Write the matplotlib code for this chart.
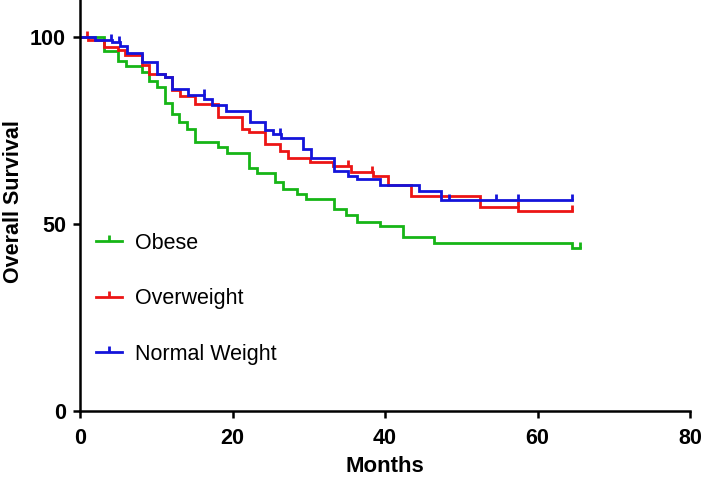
import matplotlib
matplotlib.use('Agg')
from matplotlib import pyplot as plt
from matplotlib.lines import Line2D

# Kaplan-Meier steps (months, % surviving)
obese_t = [0, 3.1, 5.0, 6.0, 8.1, 9.0, 10.1, 11.1, 12.0, 13.0, 14.0, 15.1, 18.1, 19.3,
           22.2, 23.2, 25.6, 26.6, 28.5, 29.6, 33.3, 34.9, 36.3, 39.3, 42.4, 46.4, 64.5, 65.6]
obese_s = [100, 96.4, 93.7, 92.3, 90.8, 88.4, 86.7, 82.3, 79.6, 77.3, 75.5, 72.0, 70.7, 69.1,
           65.1, 63.7, 61.3, 59.4, 58.0, 56.7, 54.0, 52.4, 50.7, 49.4, 46.5, 44.9, 43.5, 43.5]
obese_cens_t = [65.6]
obese_cens_s = [43.5]

over_t = [0, 1.1, 3.1, 5.0, 5.9, 8.1, 9.0, 11.1, 12.1, 13.1, 15.1, 18.1, 21.2, 22.2, 24.2,
          26.2, 27.3, 30.2, 33.2, 35.5, 38.4, 40.4, 43.4, 52.5, 57.5, 64.5]
over_s = [100, 99.3, 97.5, 96.6, 95.2, 92.6, 90.1, 89.4, 85.8, 84.2, 82.1, 78.7, 75.5, 74.6, 71.5,
          69.7, 67.7, 66.7, 65.7, 63.9, 62.8, 60.6, 57.6, 54.5, 53.6, 53.6]
over_cens_t = [0.9, 35.2, 38.3, 57.4, 64.5]
over_cens_s = [100, 65.7, 63.9, 54.5, 53.6]

norm_t = [0, 2.0, 4.2, 5.2, 6.1, 8.1, 10.1, 11.1, 12.1, 14.2, 16.3, 17.3, 19.2, 22.3, 24.3,
          25.3, 26.3, 29.3, 30.3, 33.3, 35.2, 36.3, 39.3, 44.4, 47.4, 64.5]
norm_s = [100, 99.3, 98.8, 97.7, 95.7, 93.4, 90.3, 89.4, 86.3, 84.5, 83.6, 81.8, 80.3, 77.3, 75.1,
          74.2, 73.1, 70.2, 67.7, 64.3, 63.0, 62.1, 60.6, 59.0, 56.6, 56.6]
norm_cens_t = [4.1, 5.1, 16.2, 26.2, 48.4, 54.5, 57.5, 64.5]
norm_cens_s = [99.3, 98.8, 84.5, 74.2, 56.6, 56.6, 56.6, 56.6]

labels = ['Obese', 'Overweight', 'Normal Weight']
colors = ['#16B516', '#EC1515', '#1414DA']

tick = [(0, 0), (0, 1)]  # upward censor tick
font = ['Liberation Sans', 'DejaVu Sans']

fig = plt.figure(figsize=(7.08, 4.79), dpi=100)
ax = fig.add_axes([80 / 708, 68 / 479, 610 / 708, 411 / 479])

groups = [(obese_t, obese_s, obese_cens_t, obese_cens_s),
          (over_t, over_s, over_cens_t, over_cens_s),
          (norm_t, norm_s, norm_cens_t, norm_cens_s)]
for (t, s, ct, cs), c in zip(groups, colors):
    ax.step(t, s, where='post', color=c, lw=2.0, solid_joinstyle='miter')
    ax.plot(ct, cs, ls='none', marker=tick, ms=8, mec=c, mfc='none', mew=2.0)

ax.set_xlim(0, 80)
ax.set_ylim(0, 110)
ax.set_xticks([0, 20, 40, 60, 80])
ax.set_yticks([0, 50, 100])
for side in ['top', 'right']:
    ax.spines[side].set_visible(False)
for side in ['left', 'bottom']:
    ax.spines[side].set_linewidth(1.8)
ax.tick_params(direction='out', length=5, width=1.8)
ax.tick_params(axis='x', pad=7)
ax.tick_params(axis='y', pad=5)
for lab in ax.get_xticklabels() + ax.get_yticklabels():
    lab.set_family(font)
    lab.set_fontweight('bold')
    lab.set_fontsize(15.5)

ax.set_xlabel('Months', family=font, fontweight='bold', fontsize=16, labelpad=5)
ax.set_ylabel('Overall Survival', family=font, fontweight='bold', fontsize=15.5, va='center')
ax.yaxis.set_label_coords(-66 / 610, 0.51)

handles = [Line2D([], [], color=c, lw=2.0, marker=tick, ms=8, mec=c, mew=2.0) for c in colors]
leg = ax.legend(handles, labels, loc='upper left', bbox_to_anchor=(96 / 708, 1 - 233 / 479),
                bbox_transform=fig.transFigure, frameon=False, borderpad=0, borderaxespad=0,
                handlelength=1.2, handletextpad=0.6, labelspacing=1.6, numpoints=1,
                prop={'family': font, 'size': 15.5})

fig.savefig('out.png', dpi=100)
